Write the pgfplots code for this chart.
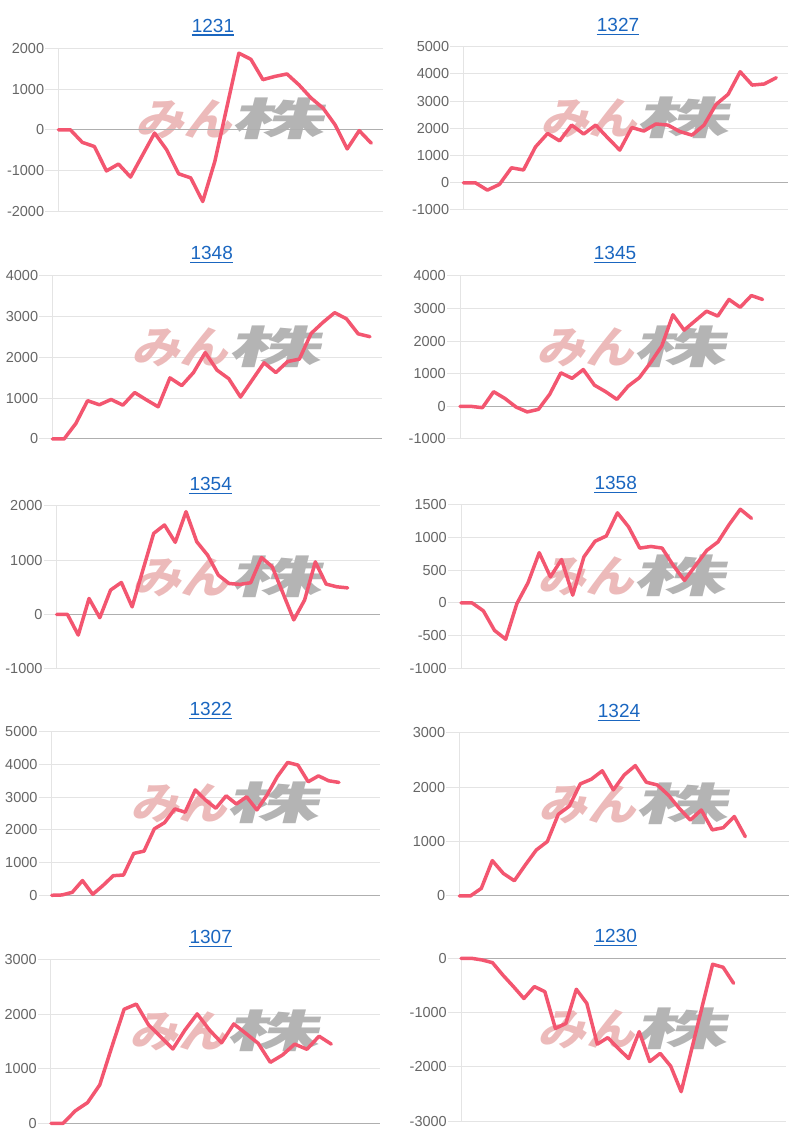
\documentclass[border=0pt]{standalone}
\usepackage{fontspec}
\setmainfont{Liberation Sans}
\newfontfamily\cjk{Noto Sans CJK JP}
\usepackage{graphicx}
\usepackage{pgfplots}
\pgfplotsset{compat=1.18}
\definecolor{linec}{RGB}{243,86,112}
\definecolor{gridc}{RGB}{228,228,228}
\definecolor{zeroc}{RGB}{175,175,175}
\definecolor{tickc}{RGB}{102,102,102}
\definecolor{titlec}{RGB}{26,102,192}
\definecolor{wmpink}{RGB}{236,186,186}
\definecolor{wmgrey}{RGB}{180,180,180}
\pgfplotsset{
 panel/.style={
  scale only axis,
  anchor=south west,
  xmin=0,
  axis x line=none,
  axis y line=left,
  y axis line style={draw=gridc, line width=1pt, -},
  xtick=\empty,
  ymajorgrids,
  grid style={draw=gridc, line width=1pt},
  major tick length=13pt,
  tick align=outside,
  ytick style={draw=gridc, line width=1pt},
  yticklabel style={font=\fontsize{14.5}{16}\selectfont, text=tickc, inner sep=1pt},
  /pgf/number format/assume math mode=true,
  /pgf/number format/1000 sep={},
  clip=false,
 },
 wline/.style={draw=linec, line width=3.5pt, line join=round, line cap=round, mark=none},
}
\newcommand{\wm}{\node[xslant=0.25, transform shape, inner sep=0pt] at (rel axis cs:0.54,0.565) {\cjk\bfseries\fontsize{44}{44}\selectfont\textcolor{wmpink}{\scalebox{1.1}[1]{みん}}\textcolor{wmgrey}{\scalebox{2.1}[1]{株}}};}
\newcommand{\ttl}[3]{\node[anchor=base, inner sep=0pt, font=\fontsize{19}{20}\selectfont, text=titlec] (t) at (#1pt,#2pt) {#3};
 \draw[titlec, line width=1.4pt] ([yshift=-2.8pt]t.base west) -- ([yshift=-2.8pt]t.base east);}
\begin{document}
\begin{tikzpicture}
\useasboundingbox (0,0) rectangle (810pt,1145pt);
% titles
\ttl{213}{1112.7}{1231}
\ttl{618}{1113.3}{1327}
\ttl{211.7}{885}{1348}
\ttl{615}{885.5}{1345}
\ttl{210.7}{654}{1354}
\ttl{615.7}{655.5}{1358}
\ttl{210.8}{429}{1322}
\ttl{619}{427.2}{1324}
\ttl{210.7}{201}{1307}
\ttl{615.7}{202.2}{1230}

% 1231
\begin{axis}[panel, at={(58.3pt,933.7pt)}, width=325pt, height=163pt, xmax=27, ymin=-2000, ymax=2000, ytick={-2000,-1000,0,1000,2000}]
\wm
\draw[zeroc, line width=1pt] (axis cs:0,0) -- (axis cs:27,0);
\addplot[wline] coordinates {(0,0) (1,0) (2,-310) (3,-410) (4,-1010) (5,-840) (6,-1160) (7,-620) (8,-80) (9,-490) (10,-1080) (11,-1180) (12,-1760) (13,-780) (14,550) (15,1880) (16,1730) (17,1230) (18,1310) (19,1370) (20,1100) (21,780) (22,530) (23,120) (24,-470) (25,-20) (26,-330)};
\end{axis}

% 1327
\begin{axis}[panel, at={(463.3pt,935pt)}, width=325pt, height=163.3pt, xmax=27, ymin=-1000, ymax=5000, ytick={-1000,0,1000,2000,3000,4000,5000}]
\wm
\draw[zeroc, line width=1pt] (axis cs:0,0) -- (axis cs:27,0);
\addplot[wline] coordinates {(0,0) (1,0) (2,-270) (3,-60) (4,550) (5,470) (6,1320) (7,1810) (8,1540) (9,2120) (10,1790) (11,2120) (12,1650) (13,1200) (14,2030) (15,1900) (16,2160) (17,2120) (18,1880) (19,1750) (20,2120) (21,2880) (22,3250) (23,4080) (24,3590) (25,3630) (26,3860)};
\end{axis}

% 1348
\begin{axis}[panel, at={(52.3pt,706pt)}, width=329.4pt, height=163pt, xmax=28, ymin=0, ymax=4000, ytick={0,1000,2000,3000,4000}]
\wm
\draw[zeroc, line width=1pt] (axis cs:0,0) -- (axis cs:28,0);
\addplot[wline] coordinates {(0,0) (1,0) (2,380) (3,940) (4,840) (5,970) (6,830) (7,1140) (8,960) (9,790) (10,1500) (11,1310) (12,1630) (13,2120) (14,1690) (15,1480) (16,1030) (17,1450) (18,1870) (19,1630) (20,1900) (21,1960) (22,2590) (23,2860) (24,3100) (25,2950) (26,2580) (27,2510)};
\end{axis}

% 1345
\begin{axis}[panel, at={(460pt,706pt)}, width=325pt, height=163pt, xmax=29, ymin=-1000, ymax=4000, ytick={-1000,0,1000,2000,3000,4000}]
\wm
\draw[zeroc, line width=1pt] (axis cs:0,0) -- (axis cs:29,0);
\addplot[wline] coordinates {(0,0) (1,0) (2,-40) (3,450) (4,245) (5,-20) (6,-170) (7,-90) (8,370) (9,1030) (10,860) (11,1130) (12,650) (13,450) (14,215) (15,620) (16,880) (17,1340) (18,1850) (19,2810) (20,2340) (21,2630) (22,2920) (23,2770) (24,3280) (25,3040) (26,3400) (27,3280)};
\end{axis}

% 1354
\begin{axis}[panel, at={(56.7pt,476.3pt)}, width=323.3pt, height=162.7pt, xmax=30, ymin=-1000, ymax=2000, ytick={-1000,0,1000,2000}]
\wm
\draw[zeroc, line width=1pt] (axis cs:0,0) -- (axis cs:30,0);
\addplot[wline] coordinates {(0,0) (1,0) (2,-380) (3,295) (4,-60) (5,450) (6,590) (7,140) (8,820) (9,1495) (10,1650) (11,1330) (12,1895) (13,1340) (14,1095) (15,725) (16,570) (17,555) (18,585) (19,1050) (20,880) (21,390) (22,-100) (23,265) (24,970) (25,560) (26,510) (27,490)};
\end{axis}

% 1358
\begin{axis}[panel, at={(461pt,476.7pt)}, width=324pt, height=163.3pt, xmax=29, ymin=-1000, ymax=1500, ytick={-1000,-500,0,500,1000,1500}]
\wm
\draw[zeroc, line width=1pt] (axis cs:0,0) -- (axis cs:29,0);
\addplot[wline] coordinates {(0,0) (1,0) (2,-120) (3,-420) (4,-555) (5,-10) (6,310) (7,770) (8,400) (9,665) (10,120) (11,705) (12,945) (13,1025) (14,1380) (15,1165) (16,840) (17,865) (18,840) (19,575) (20,345) (21,575) (22,805) (23,935) (24,1200) (25,1435) (26,1295)};
\end{axis}

% 1322
\begin{axis}[panel, at={(51.7pt,249.7pt)}, width=328.3pt, height=163.6pt, xmax=32, ymin=0, ymax=5000, ytick={0,1000,2000,3000,4000,5000}]
\wm
\draw[zeroc, line width=1pt] (axis cs:0,0) -- (axis cs:32,0);
\addplot[wline] coordinates {(0,0) (1,10) (2,90) (3,450) (4,30) (5,300) (6,600) (7,620) (8,1280) (9,1350) (10,2030) (11,2220) (12,2640) (13,2540) (14,3220) (15,2910) (16,2660) (17,3040) (18,2790) (19,3010) (20,2610) (21,3070) (22,3630) (23,4060) (24,3980) (25,3470) (26,3650) (27,3500) (28,3450)};
\end{axis}

% 1324
\begin{axis}[panel, at={(459.3pt,249pt)}, width=330pt, height=163.3pt, xmax=30, ymin=0, ymax=3000, ytick={0,1000,2000,3000}]
\wm
\draw[zeroc, line width=1pt] (axis cs:0,0) -- (axis cs:30,0);
\addplot[wline] coordinates {(0,0) (1,0) (2,140) (3,650) (4,415) (5,280) (6,570) (7,845) (8,1000) (9,1500) (10,1650) (11,2060) (12,2145) (13,2300) (14,1950) (15,2225) (16,2395) (17,2090) (18,2040) (19,1855) (20,1610) (21,1395) (22,1580) (23,1215) (24,1255) (25,1460) (26,1090)};
\end{axis}

% 1307
\begin{axis}[panel, at={(51pt,21.7pt)}, width=329pt, height=163.3pt, xmax=27, ymin=0, ymax=3000, ytick={0,1000,2000,3000}]
\wm
\draw[zeroc, line width=1pt] (axis cs:0,0) -- (axis cs:27,0);
\addplot[wline] coordinates {(0,0) (1,0) (2,230) (3,380) (4,705) (5,1410) (6,2095) (7,2190) (8,1810) (9,1590) (10,1365) (11,1715) (12,2010) (13,1715) (14,1480) (15,1825) (16,1650) (17,1470) (18,1120) (19,1255) (20,1455) (21,1360) (22,1600) (23,1455)};
\end{axis}

% 1230
\begin{axis}[panel, at={(461pt,23.7pt)}, width=325pt, height=163pt, xmax=31, ymin=-3000, ymax=0, ytick={-3000,-2000,-1000,0}]
\wm
\draw[zeroc, line width=1pt] (axis cs:0,0) -- (axis cs:31,0);
\addplot[wline] coordinates {(0,0) (1,0) (2,-30) (3,-80) (4,-310) (5,-520) (6,-740) (7,-520) (8,-615) (9,-1290) (10,-1200) (11,-570) (12,-830) (13,-1580) (14,-1460) (15,-1660) (16,-1845) (17,-1350) (18,-1900) (19,-1750) (20,-1985) (21,-2455) (22,-1675) (23,-890) (24,-110) (25,-165) (26,-460)};
\end{axis}
\end{tikzpicture}
\end{document}
